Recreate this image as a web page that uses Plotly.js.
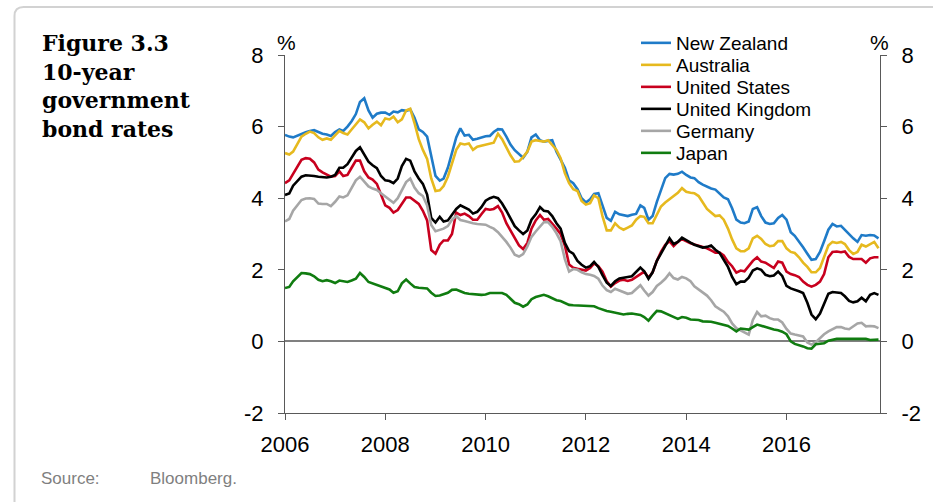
<!DOCTYPE html>
<html>
<head>
<meta charset="utf-8">
<script src="https://cdn.plot.ly/plotly-3.0.1.min.js"></script>
<style>
html,body{margin:0;padding:0;background:#fff;}
#chart{width:933px;height:502px;}
</style>
</head>
<body>
<div id="chart"></div>
<script>
// Monthly observations, Jan 2006 - Nov 2017 (per cent)
var startYear = 2006;
var nMonths = 143;
var seriesNames = ["New Zealand", "Australia", "United States", "United Kingdom", "Germany", "Japan"];
var seriesColors = ["#1f7bc8", "#e6b91e", "#c8001e", "#000000", "#a6a6a6", "#107c10"];
var yTickVals = [-2, 0, 2, 4, 6, 8];
var xTickYears = ["2006", "2008", "2010", "2012", "2014", "2016"];

var newZealand = [
 5.77,5.72,5.70,5.74,5.78,5.84,5.88,5.90,5.85,5.80,5.78,5.74,
 5.85,5.92,5.88,6.00,6.15,6.35,6.69,6.79,6.45,6.25,6.36,6.39,
 6.39,6.33,6.42,6.40,6.46,6.44,6.48,6.25,5.92,5.85,5.72,5.20,
 4.62,4.49,4.55,4.85,5.30,5.70,5.95,5.75,5.77,5.63,5.66,5.70,
 5.73,5.74,5.85,5.93,5.92,5.72,5.50,5.34,5.24,5.13,5.30,5.70,
 5.78,5.62,5.58,5.60,5.62,5.30,5.07,4.85,4.50,4.42,4.25,4.00,
 3.88,3.97,4.12,4.14,3.80,3.45,3.37,3.62,3.55,3.52,3.50,3.54,
 3.56,3.80,3.73,3.40,3.50,3.90,4.25,4.56,4.68,4.66,4.68,4.74,
 4.65,4.58,4.56,4.45,4.38,4.32,4.27,4.24,4.12,4.02,3.97,3.72,
 3.40,3.32,3.30,3.35,3.70,3.75,3.50,3.32,3.28,3.30,3.45,3.53,
 3.40,3.05,2.95,2.80,2.63,2.45,2.28,2.30,2.50,2.80,3.12,3.28,
 3.21,3.23,3.12,2.98,2.88,2.78,2.97,2.95,2.97,2.96,2.88];

var australia = [
 5.26,5.22,5.30,5.50,5.72,5.80,5.86,5.82,5.70,5.63,5.67,5.63,
 5.77,5.88,5.82,5.78,5.92,6.05,6.20,6.12,5.95,6.05,6.14,6.04,
 6.23,6.20,6.28,6.12,6.20,6.45,6.50,6.10,5.65,5.35,5.10,4.55,
 4.20,4.22,4.34,4.60,5.00,5.35,5.53,5.50,5.53,5.35,5.44,5.47,
 5.50,5.53,5.55,5.80,5.65,5.42,5.20,5.02,5.03,5.15,5.30,5.58,
 5.62,5.60,5.58,5.62,5.50,5.35,5.12,4.70,4.42,4.25,4.20,3.92,
 3.82,3.86,4.08,4.00,3.50,3.10,3.10,3.30,3.18,3.12,3.18,3.24,
 3.40,3.50,3.48,3.30,3.30,3.55,3.77,3.88,3.97,4.06,4.15,4.28,
 4.18,4.15,4.14,4.06,3.88,3.70,3.60,3.50,3.52,3.40,3.15,2.85,
 2.60,2.52,2.52,2.60,2.88,2.95,2.86,2.72,2.66,2.68,2.80,2.80,
 2.60,2.50,2.47,2.35,2.20,2.08,1.93,1.93,2.05,2.38,2.68,2.78,
 2.75,2.78,2.72,2.55,2.44,2.50,2.70,2.65,2.72,2.78,2.60];

var unitedStates = [
 4.42,4.50,4.68,4.88,5.07,5.12,5.10,5.00,4.80,4.72,4.66,4.60,
 4.62,4.75,4.62,4.65,4.85,5.05,5.05,4.75,4.58,4.52,4.40,4.08,
 3.80,3.73,3.60,3.67,3.85,4.02,4.02,3.92,3.84,3.65,3.38,2.55,
 2.45,2.70,2.82,2.82,3.00,3.60,3.53,3.57,3.50,3.40,3.40,3.55,
 3.70,3.68,3.70,3.78,3.60,3.30,3.10,2.88,2.68,2.58,2.75,3.15,
 3.38,3.53,3.40,3.42,3.30,3.15,3.00,2.68,2.15,2.06,2.03,2.00,
 1.98,2.05,2.18,2.10,1.95,1.68,1.53,1.63,1.70,1.72,1.69,1.72,
 1.80,1.88,1.95,1.78,1.93,2.25,2.50,2.70,2.80,2.66,2.78,2.86,
 2.80,2.74,2.71,2.68,2.65,2.60,2.54,2.48,2.48,2.40,2.22,2.10,
 1.92,1.98,1.96,2.10,2.25,2.35,2.23,2.20,2.12,2.05,2.23,2.20,
 1.95,1.88,1.85,1.80,1.67,1.58,1.53,1.58,1.67,1.88,2.35,2.50,
 2.51,2.49,2.51,2.36,2.30,2.30,2.30,2.20,2.32,2.35,2.35];

var unitedKingdom = [
 4.09,4.13,4.35,4.48,4.60,4.64,4.64,4.62,4.60,4.58,4.58,4.60,
 4.65,4.85,4.85,4.95,5.15,5.32,5.42,5.20,5.02,4.92,4.84,4.62,
 4.50,4.48,4.42,4.55,4.90,5.10,5.05,4.75,4.55,4.40,4.10,3.45,
 3.32,3.48,3.35,3.38,3.55,3.70,3.80,3.73,3.68,3.57,3.62,3.75,
 3.93,4.00,4.04,4.00,3.85,3.65,3.45,3.22,3.10,3.00,3.10,3.40,
 3.55,3.75,3.65,3.63,3.50,3.30,3.15,2.75,2.52,2.45,2.25,2.14,
 2.06,2.10,2.22,2.08,1.85,1.64,1.55,1.68,1.76,1.79,1.80,1.82,
 1.94,2.06,1.96,1.75,1.93,2.25,2.45,2.68,2.88,2.72,2.78,2.90,
 2.84,2.76,2.70,2.66,2.62,2.64,2.68,2.56,2.47,2.28,2.08,1.80,
 1.60,1.67,1.67,1.78,1.98,2.04,2.00,1.86,1.82,1.84,1.95,1.83,
 1.55,1.48,1.45,1.40,1.35,1.08,0.75,0.62,0.78,1.05,1.33,1.38,
 1.36,1.35,1.26,1.13,1.09,1.12,1.22,1.12,1.30,1.35,1.30];

var germany = [
 3.35,3.42,3.65,3.82,3.95,3.99,4.00,3.98,3.85,3.84,3.84,3.78,
 3.90,4.05,4.02,4.08,4.30,4.50,4.60,4.45,4.33,4.27,4.23,4.14,
 4.05,3.95,3.87,4.00,4.22,4.45,4.55,4.30,4.14,4.06,3.80,3.25,
 3.08,3.12,3.15,3.22,3.40,3.50,3.39,3.36,3.32,3.30,3.28,3.26,
 3.26,3.20,3.15,3.05,2.92,2.78,2.62,2.42,2.37,2.44,2.65,2.92,
 3.07,3.22,3.33,3.33,3.20,3.02,2.80,2.30,1.95,2.02,2.00,1.93,
 1.88,1.86,1.83,1.75,1.56,1.43,1.38,1.47,1.43,1.38,1.33,1.35,
 1.47,1.57,1.42,1.28,1.38,1.55,1.64,1.75,1.90,1.77,1.73,1.80,
 1.76,1.68,1.54,1.45,1.37,1.28,1.15,0.98,0.90,0.83,0.70,0.50,
 0.37,0.30,0.25,0.19,0.60,0.82,0.70,0.72,0.65,0.61,0.61,0.53,
 0.35,0.22,0.19,0.17,0.14,-0.03,-0.09,-0.02,0.10,0.20,0.28,0.33,
 0.40,0.40,0.36,0.34,0.42,0.50,0.52,0.42,0.43,0.42,0.37];

var japan = [
 1.49,1.52,1.68,1.80,1.91,1.90,1.88,1.82,1.72,1.68,1.71,1.68,
 1.63,1.70,1.68,1.66,1.70,1.75,1.91,1.80,1.66,1.62,1.58,1.52,
 1.50,1.45,1.36,1.40,1.62,1.73,1.62,1.52,1.50,1.50,1.48,1.36,
 1.27,1.28,1.31,1.36,1.44,1.45,1.40,1.35,1.33,1.32,1.30,1.30,
 1.31,1.35,1.35,1.35,1.35,1.30,1.20,1.08,1.04,0.97,1.03,1.18,
 1.24,1.27,1.30,1.26,1.20,1.15,1.13,1.08,1.02,1.01,1.00,1.00,
 1.00,0.99,0.98,0.93,0.88,0.85,0.83,0.80,0.78,0.75,0.77,0.78,
 0.76,0.74,0.68,0.58,0.72,0.85,0.84,0.79,0.74,0.70,0.63,0.68,
 0.66,0.61,0.61,0.60,0.56,0.56,0.55,0.52,0.49,0.47,0.43,0.36,
 0.28,0.36,0.35,0.33,0.40,0.47,0.44,0.40,0.35,0.33,0.31,0.27,
 0.20,0.00,-0.07,-0.10,-0.14,-0.19,-0.20,-0.08,-0.06,-0.05,0.02,0.05,
 0.07,0.07,0.07,0.06,0.05,0.05,0.06,0.07,0.04,0.05,0.05];

var seriesValues = [newZealand, australia, unitedStates, unitedKingdom, germany, japan];

// month-start dates
var dates = [];
for (var m = 0; m < nMonths; m++) {
  var yr = startYear + Math.floor(m / 12);
  var mo = (m % 12) + 1;
  dates.push(yr + "-" + (mo < 10 ? "0" + mo : mo) + "-01");
}
var xTickVals = xTickYears.map(function (y) { return y + "-01-01"; });

// pixel helpers for paper placement (plot area: l=285, r=880, t=55, b=413)
var L = 285, R = 880, T = 55, B = 413;
function px(x) { return (x - L) / (R - L); }
function py(y) { return (B - y) / (B - T); }

var traces = [];
var layoutLegends = {};
for (var i = 0; i < seriesNames.length; i++) {
  var key = i === 0 ? "legend" : "legend" + (i + 1);
  traces.push({
    type: "scatter",
    mode: "lines",
    name: seriesNames[i],
    x: dates,
    y: seriesValues[i],
    line: { color: seriesColors[i], width: 2.6 },
    legend: key,
    hoverinfo: "x+y+name"
  });
  layoutLegends[key] = {
    x: px(636), xanchor: "left",
    y: py(43 + 22 * i), yanchor: "middle",
    bgcolor: "rgba(0,0,0,0)",
    borderwidth: 0,
    font: { family: "Arial, Liberation Sans, sans-serif", size: 19, color: "#000" },
    itemwidth: 30,
    tracegroupgap: 0
  };
}
// right axis carrier (no marks)
traces.push({ type: "scatter", mode: "lines", x: [], y: [], yaxis: "y2", showlegend: false, hoverinfo: "skip" });

var axisFont = { family: "Arial, Liberation Sans, sans-serif", size: 22, color: "#000" };
var yCommon = {
  range: [-2, 8],
  tickvals: yTickVals,
  ticktext: yTickVals.map(String),
  ticks: "outside",
  ticklen: 6,
  tickwidth: 1,
  tickcolor: "#595959",
  showline: true,
  linecolor: "#595959",
  linewidth: 1,
  showgrid: false,
  tickfont: axisFont,
  ticklabelstandoff: 10,
  fixedrange: true
};

var layout = Object.assign({
  width: 933,
  height: 502,
  margin: { l: L, r: 933 - R, t: T, b: 502 - B, pad: 0 },
  paper_bgcolor: "#ffffff",
  plot_bgcolor: "#ffffff",
  showlegend: true,
  xaxis: {
    type: "date",
    range: ["2006-01-01", "2017-11-12"],
    tickvals: xTickVals,
    ticktext: xTickYears,
    ticks: "outside",
    ticklen: 6,
    tickwidth: 1,
    tickcolor: "#595959",
    showline: true,
    linecolor: "#595959",
    linewidth: 1,
    showgrid: false,
    zeroline: false,
    tickfont: axisFont,
    ticklabelstandoff: 6,
    fixedrange: true
  },
  yaxis: Object.assign({}, yCommon, {
    side: "left",
    zeroline: true,
    zerolinecolor: "#808080",
    zerolinewidth: 1.6
  }),
  yaxis2: Object.assign({}, yCommon, {
    side: "right",
    overlaying: "y",
    zeroline: false
  }),
  shapes: [{
    type: "path",
    xref: "paper", yref: "paper",
    path: "M " + px(14.5) + "," + py(520) +
          " L " + px(14.5) + "," + py(16) +
          " Q " + px(14.5) + "," + py(7) + " " + px(23.5) + "," + py(7) +
          " L " + px(960) + "," + py(7),
    line: { color: "#d2d2d2", width: 2 },
    layer: "below"
  }],
  annotations: [
    {
      xref: "paper", yref: "paper", x: px(40), y: py(28),
      xanchor: "left", yanchor: "top", align: "left", showarrow: false,
      text: "<b>Figure 3.3<br>10-year<br>government<br>bond rates</b>",
      font: { family: "DejaVu Serif, serif", size: 22, color: "#000" }
    },
    {
      xref: "paper", yref: "paper", x: px(286), y: py(43),
      xanchor: "center", yanchor: "middle", showarrow: false,
      text: "%", font: { family: "Arial, Liberation Sans, sans-serif", size: 21, color: "#000" }
    },
    {
      xref: "paper", yref: "paper", x: px(879), y: py(43),
      xanchor: "center", yanchor: "middle", showarrow: false,
      text: "%", font: { family: "Arial, Liberation Sans, sans-serif", size: 21, color: "#000" }
    },
    {
      xref: "paper", yref: "paper", x: px(39), y: py(478),
      xanchor: "left", yanchor: "middle", showarrow: false,
      text: "Source:", font: { family: "Arial, Liberation Sans, sans-serif", size: 17, color: "#7f7f7f" }
    },
    {
      xref: "paper", yref: "paper", x: px(148), y: py(478),
      xanchor: "left", yanchor: "middle", showarrow: false,
      text: "Bloomberg.", font: { family: "Arial, Liberation Sans, sans-serif", size: 17, color: "#7f7f7f" }
    }
  ]
}, layoutLegends);

Plotly.newPlot("chart", traces, layout, { displayModeBar: false, staticPlot: false, responsive: false });
</script>
</body>
</html>
